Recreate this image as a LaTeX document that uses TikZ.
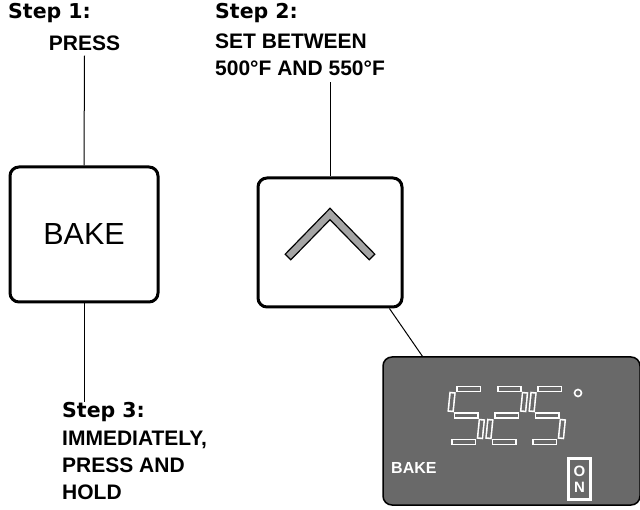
\documentclass[tikz,border=0pt]{standalone}
\usepackage{fontspec}
\setmainfont{Liberation Sans}
\newfontfamily\stepfont{DejaVu Sans}
\definecolor{PanelGray}{RGB}{105, 105, 105}
\definecolor{ChevronGray}{RGB}{165, 165, 165}
\usepackage{tikz}
\usetikzlibrary{positioning}
\tikzset{
  stephead/.style={font=\stepfont\bfseries\fontsize{20.5}{24}\selectfont,
                   inner sep=0pt, anchor=west},
  caption/.style={font=\bfseries\fontsize{21}{27}\selectfont,
                  inner sep=0pt, align=left},
  keybox/.style={rectangle, rounded corners=9pt, draw=black, line width=3pt,
                 fill=white, font=\fontsize{30.5}{34}\selectfont},
  conn/.style={line width=1pt, draw=black},
  segout/.style={draw=white, line width=6.5pt},
  segin/.style={draw=PanelGray, line width=3.3pt, shorten >=1.6pt, shorten <=1.6pt},
}
\newcommand{\dispseg}[2]{\draw[segout] #1 -- #2; \draw[segin] #1 -- #2;}

\begin{document}
\begin{tikzpicture}[x=1pt, y=-1pt]
      \useasboundingbox (0,0) rectangle (640,510);

      % step 1 and the bake key
      \node[stephead] (s1) at (8,13) {Step 1:};
      \node[caption] (press) at (84.5,43) {PRESS};
      \node[keybox, minimum width=148, minimum height=135] (bake) at (84,234.5) {BAKE};

      \node[stephead] (s3) at (62,412) {Step 3:};
      \node[caption, below=9pt of s3.south west, anchor=north west] (holdtxt)
           {IMMEDIATELY,\\PRESS AND\\HOLD};

      % step 2 and the up key
      \node[stephead] (s2) at (215,13) {Step 2:};
      \node[caption, anchor=north west] (settxt) at (215,34)
           {SET BETWEEN\\500°F AND 550°F};
      \node[keybox, minimum width=144, minimum height=129] (up) at (330,242.5) {};
      \draw[fill=ChevronGray, line width=1.2pt, line join=miter]
           (285.2,254.2) -- (330,208.3) -- (374.8,254.2) -- (369.2,259.8)
           -- (330,219.7) -- (290.8,259.8) -- cycle;

      % display
      \node[rectangle, rounded corners=9pt, draw=black, line width=1.5pt,
            fill=PanelGray, minimum width=257, minimum height=148] (disp) at (511.5,431) {};
      \begin{scope}[shift={(445,443)}, xslant=0.1]
        \foreach \dx in {0,40.5,81} {
          \dispseg{(\dx+6,-54)}{(\dx+31,-54)}
          \dispseg{(\dx+6,-27.5)}{(\dx+31,-27.5)}
          \dispseg{(\dx+6,-1)}{(\dx+31,-1)}
        }
        \foreach \dx in {0,81} {
          \dispseg{(\dx+2.5,-51)}{(\dx+2.5,-31)}
          \dispseg{(\dx+34.5,-24)}{(\dx+34.5,-4)}
        }
        \dispseg{(75,-51)}{(75,-31)}
        \dispseg{(43,-24)}{(43,-4)}
      \end{scope}
      \draw[white, line width=1.6pt] (578,393) circle (3.5);
      \node[font=\bfseries\fontsize{16}{18}\selectfont, text=white, inner sep=0pt,
            anchor=west] (dbake) at (391,468) {BAKE};
      \node[draw=white, line width=2.2pt, text=white, align=center,
            font=\bfseries\fontsize{15}{16}\selectfont, minimum width=22,
            minimum height=41, inner sep=0pt] (onsw) at (579.5,479) {O\\N};

      \draw[conn] ([yshift=-5pt]press.south) -- (bake.north);
      \draw[conn] (bake.south) -- (bake.south |- s3.north);
      \draw[conn] (up.north |- settxt.south) ++(0,6) -- (up.north);
      \draw[conn] (up.-48) -- (disp.140);
    \end{tikzpicture}
\end{document}
